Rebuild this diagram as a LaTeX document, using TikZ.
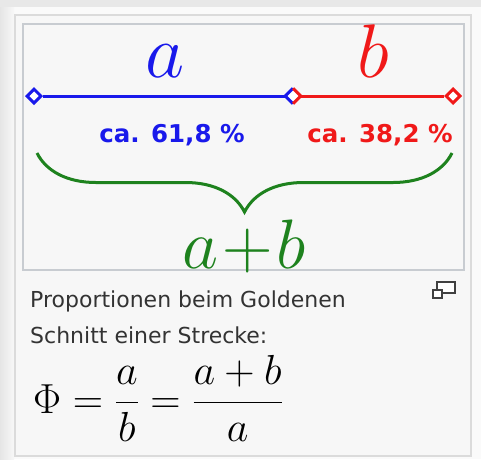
\RequirePackage{fix-cm}
\documentclass[tikz,border=0pt]{standalone}
\usepackage{fontspec}
\newfontfamily\pctfont{DejaVu Sans}
\newfontfamily\capfont{DejaVu Sans}
\usetikzlibrary{shapes.geometric,decorations.pathreplacing}
\definecolor{segA}{RGB}{25,25,235}
\definecolor{segB}{RGB}{240,25,25}
\definecolor{segAB}{RGB}{30,130,30}
\definecolor{frame}{RGB}{200,204,209}
\begin{document}
\begin{tikzpicture}[
x=1pt, y=-1pt,
tip/.style={diamond, draw=#1, fill=white, line width=3pt, minimum size=15pt, inner sep=0pt},
seg/.style={draw=#1, line width=3pt},
letter/.style 2 args={text=#1, anchor=base, inner sep=0pt, font=\fontsize{#2}{80}\selectfont},
pct/.style={text=#1, anchor=base, font=\pctfont\bfseries\fontsize{24.5}{26}\selectfont},
caption/.style={anchor=base west, inner sep=0pt, text=black!80, font=\capfont\fontsize{22}{24}\selectfont}
]
\useasboundingbox (0,0) rectangle (481,459);
\fill[white!98!black] (0,0) rectangle (481,459);
\fill[black!9] (0,0) rectangle (481,7);
\shade[left color=black!10, right color=white!97!black] (0,7) rectangle (14,459);

% --- Rahmen ---
\draw[black!14, line width=2pt, fill=white!97!black] (15,15) rectangle (471,456);
\draw[frame, line width=1.5pt, fill=white!97!black] (23,24) rectangle (464,270);

% --- Strecke a | b ---
\node[tip=segA] (pa) at (34,96) {};
\node[diamond, minimum size=15pt, inner sep=0pt, fill=white] (pm) at (293,96) {};
\node[tip=segB] (pb) at (453,96) {};
\draw[seg=segA] (pa) -- (pm);
\draw[seg=segB] (pm) -- (pb);
\draw[segA, line width=3pt] (pm.north) -- (pm.west) -- (pm.south);
\draw[segB, line width=3pt] (pm.north) -- (pm.east) -- (pm.south);

\node[letter={segA}{76}] (la) at (165,77) {$a$};
\node[letter={segB}{76}] (lb) at (373,77) {$b$};
\node[pct=segA] (qa) at (172,142) {ca. 61,8 \%};
\node[pct=segB] (qb) at (380,142) {ca. 38,2 \%};

% --- Klammer a+b ---
\coordinate (bl) at (37,153);
\coordinate (br) at (452,153);
\draw[segAB, line width=3pt, decorate, decoration={brace, amplitude=59pt, mirror}] (bl) -- (br);
\node[letter={segAB}{70}] (lab) at (244,268) {$a\!+\!b$};

% --- Bildunterschrift ---
\node[caption] (c1) at (30,307) {Proportionen beim Goldenen};
\node[caption] (c2) at (30,343) {Schnitt einer Strecke:};
\node[anchor=base west, inner sep=0pt, font=\fontsize{42}{48}\selectfont] (phi) at (33,413)
  {$\displaystyle \Phi=\frac{a}{b}=\frac{a+b}{a}$};
\draw[black!75, line width=1.3pt, fill=white] (437,282) rectangle (455,293);
\draw[black!75, line width=1.3pt, fill=white] (433,290) rectangle (442,298);
\end{tikzpicture}
\end{document}
